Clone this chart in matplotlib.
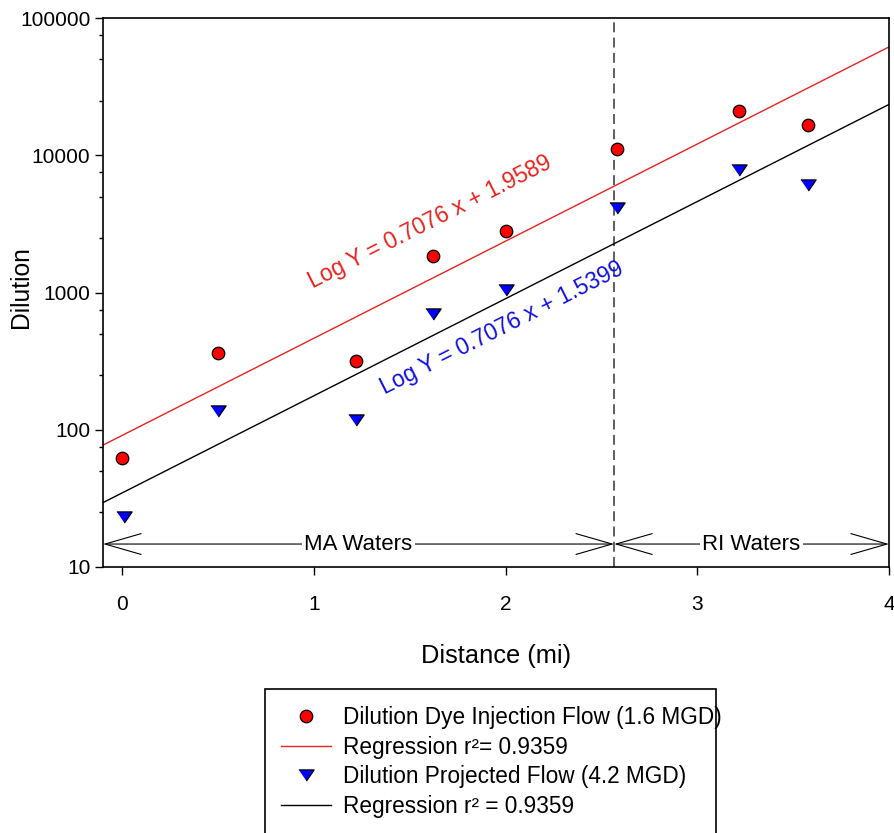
import matplotlib
matplotlib.use("Agg")
import matplotlib.pyplot as plt
import numpy as np
from matplotlib.lines import Line2D
from matplotlib.patches import Rectangle
from matplotlib.ticker import LogLocator, NullFormatter, FixedLocator, FixedFormatter

plt.rcParams['font.family'] = ['Liberation Sans', 'DejaVu Sans']

# Data
distance = [0.0, 0.5, 1.22, 1.62, 2.0, 2.58, 3.22, 3.58]
dye_injection = [62, 365, 315, 1850, 2820, 11100, 21000, 16600]
distance_proj = [0.01, 0.5, 1.22, 1.62, 2.0, 2.58, 3.22, 3.58]
projected = [23, 136, 117, 700, 1050, 4100, 7750, 6100]

slope = 0.7076
intercept_dye = 1.9589
intercept_proj = 1.5399
r2_label = "0.9359"

boundary_x = 2.566
xlim = (-0.1, 4.0)
ylim = (10, 100000)
xticks = [0, 1, 2, 3, 4]
yticks = [10, 100, 1000, 10000, 100000]
ytick_labels = ['10', '100', '1000', '10000', '100000']

fig = plt.figure(figsize=(8.95, 8.33), dpi=100)
ax = fig.add_axes([103/895, 1-567/833, (889-103)/895, (567-18)/833])
ax.set_yscale('log')
ax.set_xlim(*xlim)
ax.set_ylim(*ylim)

xr = np.linspace(xlim[0], xlim[1], 50)
ax.plot(xr, 10**(slope*xr + intercept_dye), color='#e8231f', lw=1.0, zorder=2)
ax.plot(xr, 10**(slope*xr + intercept_proj), color='black', lw=1.0, zorder=2)

tri = [(-1, 0.73), (1, 0.73), (0, -0.73)]
ax.plot(distance, dye_injection, linestyle='none', marker='o', markersize=9,
        markerfacecolor='#ff0000', markeredgecolor='black', markeredgewidth=0.9, zorder=4)
ax.plot(distance_proj, projected, linestyle='none', marker=tri, markersize=11,
        markerfacecolor='#0000ff', markeredgecolor='black', markeredgewidth=0.9, zorder=4)

ax.axvline(boundary_x, color='#333333', lw=1.1, ls=(0, (6.5, 3.5)), zorder=1)

# region arrows
arrow_y = 14.7
astyle = matplotlib.patches.ArrowStyle('<->', head_length=2.6, head_width=0.75)
for x0, x1, label in [(xlim[0], boundary_x, 'MA Waters'), (boundary_x, xlim[1], 'RI Waters')]:
    ax.annotate('', xy=(x1, arrow_y), xytext=(x0, arrow_y),
                arrowprops=dict(arrowstyle=astyle, color='black', lw=0.8,
                                shrinkA=0, shrinkB=0, mutation_scale=10), zorder=3)
    ax.text((x0 + x1)/2, arrow_y, label, ha='center', va='center', fontsize=16,
            bbox=dict(facecolor='white', edgecolor='none', pad=1.5), zorder=5)

rot = 26.8
ax.text(1.606, 3266, 'Log Y = 0.7076 x + 1.9589', color='#e8231f', fontsize=16.5,
        rotation=rot, rotation_mode='anchor', ha='center', va='center')
ax.text(1.98, 551, 'Log Y = 0.7076 x + 1.5399', color='#1010e0', fontsize=16.5,
        rotation=rot, rotation_mode='anchor', ha='center', va='center')

ax.yaxis.set_major_locator(FixedLocator(yticks))
ax.yaxis.set_major_formatter(FixedFormatter(ytick_labels))
ax.yaxis.set_minor_locator(LogLocator(base=10, subs=[2.5, 5.0, 7.5]))
ax.yaxis.set_minor_formatter(NullFormatter())
ax.set_xticks(xticks)
ax.set_xticklabels([str(t) for t in xticks])
ax.tick_params(axis='both', which='major', direction='out', length=6, width=1.0,
               labelsize=15, pad=3)
ax.tick_params(axis='x', which='major', pad=14)
ax.tick_params(axis='y', which='minor', direction='out', length=3, width=1.0)
ax.tick_params(axis='x', which='minor', length=0)
for s in ax.spines.values():
    s.set_linewidth(1.2)

ax.set_xlabel('Distance (mi)', fontsize=18.3, labelpad=22)
ax.set_ylabel('Dilution', fontsize=17.7)
ax.yaxis.set_label_coords(-0.089, 0.51)

# legend
handles = [
    Line2D([], [], linestyle='none', marker='o', markersize=9, markerfacecolor='#ff0000',
           markeredgecolor='black', markeredgewidth=0.9),
    Line2D([], [], color='#e8231f', lw=1.0),
    Line2D([], [], linestyle='none', marker=tri, markersize=11, markerfacecolor='#0000ff',
           markeredgecolor='black', markeredgewidth=0.9),
    Line2D([], [], color='black', lw=1.0),
]
labels = ['Dilution Dye Injection Flow (1.6 MGD)', 'Regression r\u00b2= ' + r2_label,
          'Dilution Projected Flow (4.2 MGD)', 'Regression r\u00b2 = ' + r2_label]
leg = fig.legend(handles, labels, loc='upper left', bbox_to_anchor=(281/895, 1-706/833),
                 frameon=False, fontsize=16.3, handlelength=2.2, handletextpad=0.55,
                 labelspacing=0.29, borderpad=0, borderaxespad=0)
fig.add_artist(Rectangle((265/895, -0.02), (716-265)/895, (0.02 + 1-689/833),
                         transform=fig.transFigure, fill=False, edgecolor='black', lw=1.2))

fig.savefig('out.png', dpi=100)
